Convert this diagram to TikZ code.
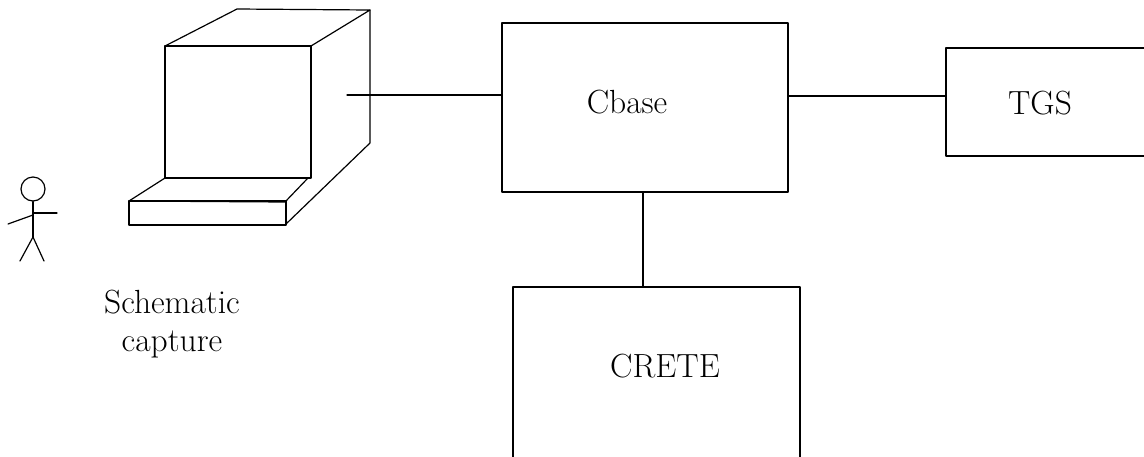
\documentclass[tikz,border=0pt]{standalone}
\usetikzlibrary{calc}
\begin{document}
\begin{tikzpicture}[x=1pt,y=-1pt,
  line width=1.2pt, line join=round, line cap=round,
  every node/.style={font=\fontsize{33.5}{38}\selectfont},
  block/.style={draw, rectangle, inner sep=0pt},
  label/.style={inner sep=0pt}]
\useasboundingbox (0,0) rectangle (1144,456);
\clip (0,0) rectangle (1144,456);

% user
\node[circle, draw, minimum size=24pt, inner sep=0pt] (head) at (33,189) {};
\coordinate (hip) at (33,237);
\draw (head.south) -- (hip);
\draw (33,213) -- (57,213);
\draw (33,215) -- (8,224);
\draw (hip) -- (20,261);
\draw (hip) -- (44,261);

% workstation: monitor box
\draw (165,46) rectangle (311,178);
\draw (165,46) -- (237,9) -- (370,10) -- (311,46);
\draw (370,10) -- (370,143) -- (286,224);
% keyboard
\draw (165,178) -- (129,201) -- (285,202) -- (308,178);
\draw (129,201) rectangle (286,225);
\coordinate (port) at (347,95);

\node[label, align=center, anchor=north] (sc) at (172,289) {Schematic\\capture};

% blocks
\node[block, minimum width=286pt, minimum height=169pt] (cbase) at (645,107.5) {};
\node[label] (cbaset) at (627,102) {Cbase};
\node[block, minimum width=199pt, minimum height=108pt] (tgs) at (1045.5,102) {};
\node[label] (tgst) at (1040,103) {TGS};
\node[block, minimum width=287pt, minimum height=190pt] (crete) at (656.5,382) {};
\node[label] (cretet) at (665,366) {CRETE};

% connectors
\draw (port) -- (port -| cbase.west);
\draw (cbase.east |- 0,96) -- (tgs.west |- 0,96);
\draw (cbase.south -| 643,0) -- (crete.north -| 643,0);
\end{tikzpicture}
\end{document}
